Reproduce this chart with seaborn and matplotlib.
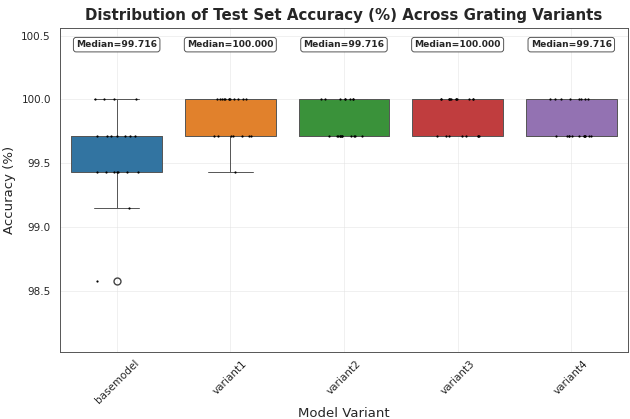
import numpy as np
import pandas as pd
import matplotlib
matplotlib.use("Agg")
import matplotlib.pyplot as plt
import seaborn as sns

# valores de accuracy por variante (test set de 352 muestras)
variants = ["basemodel", "variant1", "variant2", "variant3", "variant4"]
acc_levels = [98.580, 99.148, 99.432, 99.716, 100.000]
counts = {
    "basemodel": [1, 1, 7, 7, 4],
    "variant1":  [0, 0, 1, 7, 12],
    "variant2":  [0, 0, 0, 12, 8],
    "variant3":  [0, 0, 0, 8, 12],
    "variant4":  [0, 0, 0, 12, 8],
}

rows = []
for v in variants:
    for lvl, c in zip(acc_levels, counts[v]):
        rows += [{"variant": v, "acc": lvl}] * c
df = pd.DataFrame(rows)

np.random.seed(7)
sns.set_style("white")
fig, ax = plt.subplots(figsize=(6.3, 4.19), dpi=100)
fig.subplots_adjust(left=0.095, right=0.997, top=0.933, bottom=0.16)

sns.boxplot(data=df, x="variant", y="acc", hue="variant", palette="tab10",
            order=variants, legend=False, linewidth=0.7, width=0.8, ax=ax,
            linecolor="#555555",
            flierprops=dict(marker="o", markersize=5, markerfacecolor="none",
                            markeredgecolor="#444444"))
sns.stripplot(data=df, x="variant", y="acc", order=variants, color="black",
              size=1.6, jitter=0.2, ax=ax)

for i, v in enumerate(variants):
    med = df.loc[df.variant == v, "acc"].median()
    ax.text(i, 100.43, f"Median={med:.3f}", ha="center", va="center",
            fontsize=6.6, fontweight="bold",
            bbox=dict(boxstyle="round,pad=0.3", fc="white", ec="#555555", lw=0.7))

ax.set_ylim(98.02, 100.56)
ax.set_yticks([98.5, 99.0, 99.5, 100.0, 100.5])
ax.grid(True, color="#dddddd", alpha=0.5, linewidth=0.6)
ax.set_axisbelow(True)
for s in ax.spines.values():
    s.set_color("#555555")
    s.set_linewidth(0.7)
ax.tick_params(axis="both", length=3, width=0.6, labelsize=7.5, color="#555555")
ax.tick_params(axis="x", pad=1.5)
plt.setp(ax.get_xticklabels(), rotation=45, ha="center")
ax.set_xlabel("Model Variant", fontsize=9.5, labelpad=1)
ax.set_ylabel("Accuracy (%)", fontsize=9.5)
ax.set_title("Distribution of Test Set Accuracy (%) Across Grating Variants",
             fontsize=10.8, fontweight="bold")

plt.savefig("out.png", dpi=100)
